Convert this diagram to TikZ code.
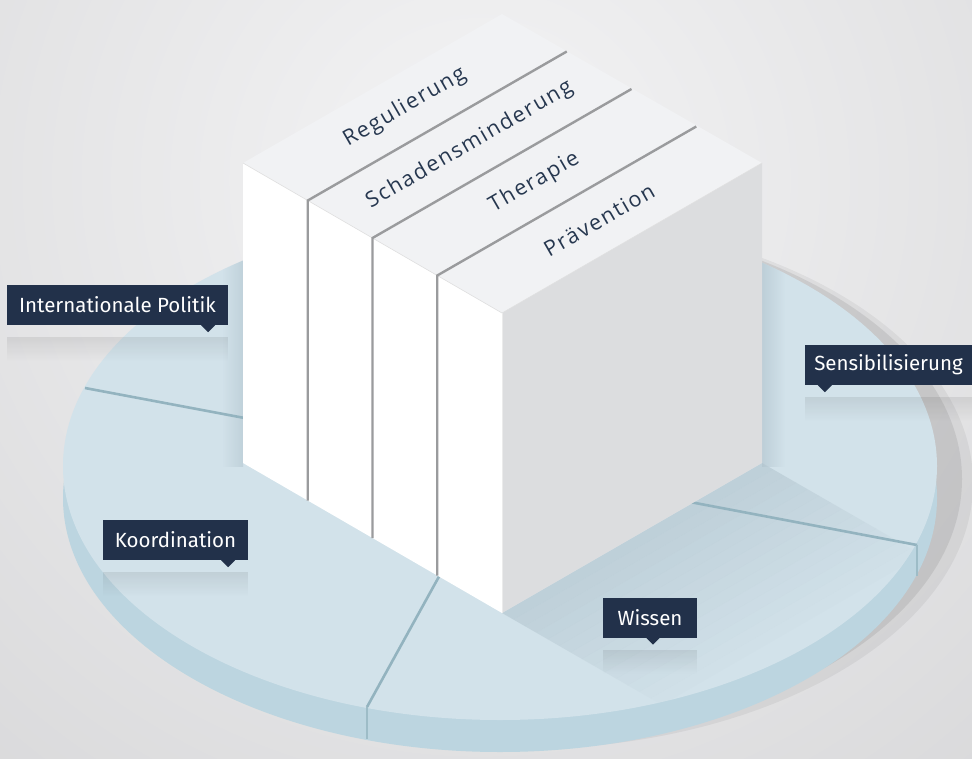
\documentclass[tikz,border=0pt]{standalone}
\usepackage{fontspec}
\setmainfont{Fira Sans}
\newfontfamily\cubefont[LetterSpace=8]{Open Sans}
\usetikzlibrary{fadings,calc}
\definecolor{navy}{HTML}{22314A}
\definecolor{cubetext}{HTML}{26374F}
\definecolor{disctop}{HTML}{D2E2EA}
\definecolor{discband}{HTML}{BCD5E0}
\definecolor{secline}{HTML}{93B3BF}
\definecolor{bandline}{HTML}{9DBCC7}
\definecolor{topface}{HTML}{F1F2F4}
\definecolor{rightface}{HTML}{DCDDDF}
\definecolor{slabline}{HTML}{9A9B9D}
\definecolor{bgin}{HTML}{F4F4F5}
\definecolor{bgout}{HTML}{C8C8CA}
\definecolor{cubeshadow}{HTML}{AFC2CC}
\tikzset{
  lbl/.style={fill=navy, text=white, inner sep=0, minimum height=40,
    font=\fontsize{20.5}{20.5}\selectfont},
  refl/.style={black, opacity=.08, path fading=south},
  sector/.style={secline, line width=2.6},
  bandsep/.style={bandline, line width=2.6},
  slabsep/.style={slabline, line width=2.4},
  cubetxt/.style={text=cubetext, rotate=30, inner sep=0,
    font=\cubefont\fontsize{21.5}{21.5}\selectfont},
}
\begin{document}
\begin{tikzpicture}[x=1pt,y=-1pt]
\useasboundingbox (0,0) rectangle (972,758);
% background
\begin{scope}
  \clip (0,0) rectangle (972,758);
  \fill[bgout] (0,0) rectangle (972,758);
  \shade[inner color=bgin, outer color=bgout] (480,180) circle (1300);
\end{scope}
% cube corner coordinates
\coordinate (T) at (502,14);
\coordinate (R) at (762,163);
\coordinate (F) at (502,313);
\coordinate (L) at (243,163);
\coordinate (Lb) at (243,463);
\coordinate (Fb) at (502,613);
\coordinate (Rb) at (762,463);
% disc shadow
\fill[black, opacity=.05] (521,483) ellipse [x radius=452, y radius=266];
\fill[black, opacity=.08] (514,479) ellipse [x radius=448, y radius=262];
% disc band and top
\coordinate (c) at (500,466);
\fill[discband] (500,498) ellipse [x radius=437, y radius=254];
\fill[disctop] (c) ellipse [x radius=437, y radius=254];
% shading on disc near cube
\begin{scope}
  \clip (c) ellipse [x radius=437, y radius=254];
  \foreach \i in {0,...,13} {
    \pgfmathsetmacro{\a}{\i/14}
    \pgfmathsetmacro{\b}{(\i+1)/14}
    \pgfmathsetmacro{\op}{0.55*(1-\i/14)}
    \fill[cubeshadow, opacity=\op]
      ($(Fb)+\a*(160,92)$) -- ($(Rb)+\a*(160,92)$) --
      ($(Rb)+\b*(160,92)$) -- ($(Fb)+\b*(160,92)$) -- cycle;
  }
  \shade[left color=cubeshadow, right color=disctop, opacity=.6] (762,250) rectangle (785,466);
  \shade[right color=cubeshadow, left color=disctop, opacity=.5] (222,250) rectangle (243,466);
\end{scope}
% sector lines
\coordinate (r1) at (85,388);
\coordinate (r2) at (367,707);
\coordinate (r3) at (917,545);
\draw[sector] (c) -- (r1);
\draw[sector] (c) -- (r2);
\draw[sector] (c) -- (r3);
\draw[bandsep] (r2) -- ++(0,32);
\draw[bandsep] (r3) -- ++(0,31);
% cube
\fill[white] (L) -- (F) -- (Fb) -- (Lb) -- cycle;
\fill[rightface] (F) -- (R) -- (Rb) -- (Fb) -- cycle;
\fill[topface] (T) -- (R) -- (F) -- (L) -- cycle;
\draw[black!12, line width=.6] (L) -- (F) -- (R);
\draw[black!8, line width=.6] (F) -- (Fb);
\foreach \k in {1,2,3} {
  \coordinate (P\k) at ($(L)!\k/4!(F)$);
}
\foreach \k in {1,2,3} {
  \draw[slabsep] ($(P\k)+(259,-149)$) -- (P\k) -- ++(0,300);
}
% cube texts
\node[cubetxt] (t1) at (404.9,107.3) {Regulierung};
\node[cubetxt] (t2) at (469.6,144.8) {Schadensminderung};
\node[cubetxt] (t3) at (534.4,182.3) {Therapie};
\node[cubetxt] (t4) at (599.1,219.8) {Prävention};
% labels
\node[lbl, minimum width=221] (ip) at (117.5,305) {Internationale Politik};
\node[lbl, minimum width=167] (sens) at (888.5,365) {Sensibilisierung};
\node[lbl, minimum width=145] (koord) at (175.5,540) {Koordination};
\node[lbl, minimum width=94] (wis) at (650,617.5) {Wissen};
\fill[navy] ([xshift=-27]ip.south east) -- ++(14,0) -- ++(-7,7) -- cycle;
\fill[navy] ([xshift=13]sens.south west) -- ++(14,0) -- ++(-7,7) -- cycle;
\fill[navy] ([xshift=-27]koord.south east) -- ++(14,0) -- ++(-7,7) -- cycle;
\fill[navy] ([xshift=-4]wis.south) -- ++(14,0) -- ++(-7,7) -- cycle;
\fill[refl] ([yshift=-12]ip.south west) rectangle ([yshift=-36]ip.south east);
\fill[refl] ([yshift=-12]sens.south west) rectangle ([yshift=-36]sens.south east);
\fill[refl] ([yshift=-12]koord.south west) rectangle ([yshift=-36]koord.south east);
\fill[refl] ([yshift=-12]wis.south west) rectangle ([yshift=-36]wis.south east);
\end{tikzpicture}
\end{document}
